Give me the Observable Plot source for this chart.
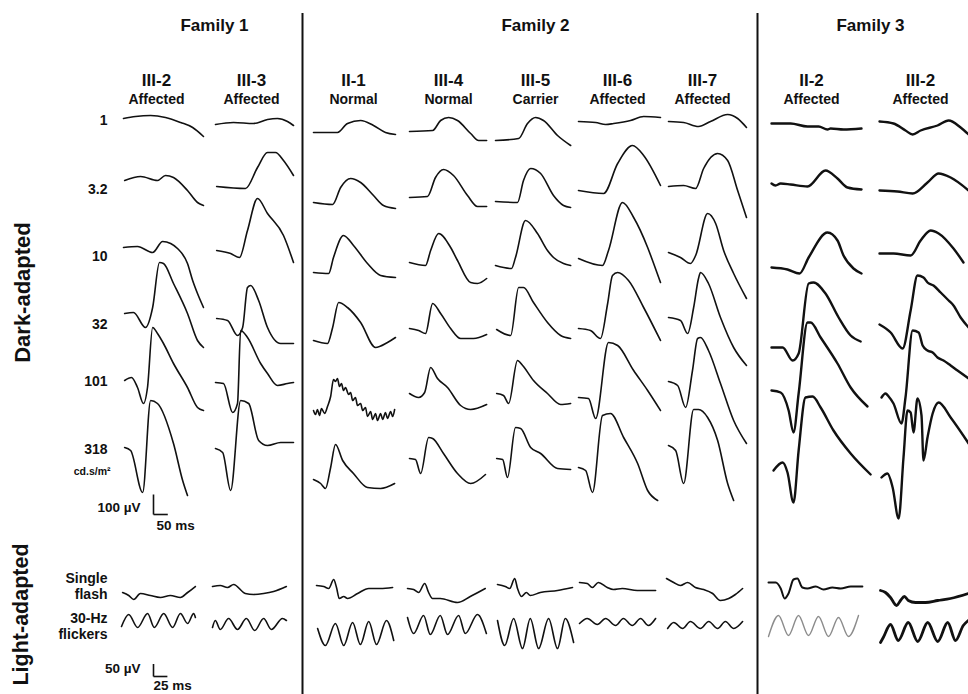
<!DOCTYPE html>
<html><head><meta charset="utf-8">
<script src="https://cdn.jsdelivr.net/npm/d3@7"></script>
<script src="https://cdn.jsdelivr.net/npm/@observablehq/plot@0.6"></script>
<style>body{margin:0;background:#fff}</style>
</head><body><div id="chart"></div>
<script>
// ---------------- DATA ----------------
const families = ["Family 1", "Family 2", "Family 3"];
const subjects = ["III-2", "III-3", "II-1", "III-4", "III-5", "III-6", "III-7", "II-2", "III-2"];
const subjectFamily = [0, 0, 1, 1, 1, 1, 1, 2, 2];
const subjectStatus = ["Affected", "Affected", "Normal", "Normal", "Carrier", "Affected", "Affected", "Affected", "Affected"];
const intensities = ["1", "3.2", "10", "32", "101", "318"];
const intensityUnit = "cd.s/m²";
const lightLabels = [["Single", "flash"], ["30-Hz", "flickers"]];
const darkScaleBar = {uV: 100, ms: 50};
const lightScaleBar = {uV: 50, ms: 25};

// Dark-adapted traces: per subject, one trace per intensity, points [ms, µV]
const darkF1_III2 = [
  [[0,5],[42,15],[95,20],[147,10],[200,-15],[242,-40],[280,-85]],
  [[4,40],[60,60],[119,40],[147,65],[175,55],[224,-10],[259,-70],[280,-85]],
  [[0,40],[49,45],[102,15],[137,70],[165,60],[189,35],[224,-40],[242,-125],[259,-190],[280,-260]],
  [[4,50],[35,55],[77,-20],[102,80],[126,305],[140,300],[175,200],[224,50],[259,-85],[280,-120]],
  [[4,0],[28,15],[49,-35],[70,-115],[84,-35],[102,265],[119,235],[140,185],[175,85],[224,-35],[259,-135],[280,-150]],
  [[4,5],[25,-10],[67,-220],[95,240],[119,225],[175,25],[207,-160],[224,-235]]
];
const darkF1_III3 = [
  [[0,-25],[63,-15],[133,-20],[182,0],[217,5],[252,-10],[273,-30]],
  [[4,10],[105,0],[147,105],[182,180],[210,180],[238,140],[273,65]],
  [[4,25],[53,10],[84,-10],[112,125],[147,285],[182,210],[238,100],[273,-35]],
  [[4,25],[42,15],[77,-60],[95,-20],[112,180],[123,190],[151,115],[182,-20],[228,-100],[273,-100]],
  [[0,-10],[28,-15],[60,-160],[77,-115],[88,250],[112,215],[158,85],[182,35],[217,-25],[252,-15],[273,-10]],
  [[0,0],[25,-20],[53,-210],[88,240],[116,225],[151,40],[182,15],[228,30],[273,30]]
];
const darkF2_II1 = [
  [[0,-65],[84,-65],[119,-20],[165,-5],[210,-30],[252,-65],[287,-75]],
  [[0,-70],[67,-80],[95,5],[130,50],[165,30],[210,-35],[245,-85],[287,-100]],
  [[0,-85],[53,-90],[70,-10],[105,100],[140,50],[189,-40],[235,-100],[287,-110]],
  [[0,-85],[49,-100],[67,-20],[88,105],[119,80],[165,5],[217,-120],[259,-95],[287,-70]],
  [[0,-150],[7,-170],[14,-145],[21,-175],[28,-140],[39,-165],[49,-130],[60,-80],[70,5],[77,-5],[84,10],[91,-30],[98,-15],[105,-50],[112,-35],[123,-70],[130,-60],[137,-100],[147,-85],[154,-125],[165,-115],[172,-150],[182,-135],[189,-180],[200,-155],[207,-195],[217,-165],[224,-200],[235,-165],[242,-195],[252,-160],[259,-190],[270,-155],[277,-180],[284,-145]],
  [[0,-155],[25,-175],[42,-200],[60,-95],[77,20],[102,-60],[140,-125],[189,-195],[235,-200],[284,-175]]
];
const darkF2_III4 = [
  [[0,-60],[81,-55],[109,-5],[137,10],[168,-5],[214,-70],[242,-105],[270,-105]],
  [[0,-45],[63,-40],[91,55],[119,95],[154,65],[203,-35],[238,-90],[270,-90]],
  [[0,-35],[56,-50],[74,25],[102,110],[144,40],[168,-25],[214,-135],[238,-140],[270,-115]],
  [[0,-25],[32,-35],[56,-50],[81,100],[109,50],[144,-25],[179,-75],[224,-75],[270,-55]],
  [[0,-65],[32,-85],[53,-60],[74,65],[98,10],[133,-35],[179,-125],[214,-145],[270,-120]],
  [[0,-50],[21,-55],[39,-125],[67,55],[81,50],[119,-25],[168,-125],[214,-175],[266,-130]]
];
const darkF2_III5 = [
  [[0,-105],[81,-95],[112,-20],[140,10],[168,-5],[217,-80],[263,-130]],
  [[0,-65],[77,-70],[98,40],[123,100],[158,75],[203,-35],[238,-85],[263,-95]],
  [[0,-50],[56,-65],[70,-10],[105,175],[147,110],[182,25],[203,-10],[238,-40],[263,-50]],
  [[4,-30],[53,-60],[81,180],[98,180],[133,105],[182,5],[228,-60],[263,-75]],
  [[4,-65],[28,-75],[46,-115],[77,100],[95,75],[133,0],[182,-65],[228,-120],[263,-115]],
  [[4,-50],[25,-55],[42,-145],[70,105],[88,100],[123,5],[158,-25],[217,-100],[263,-105]]
];
const darkF2_III6 = [
  [[0,-10],[60,-15],[95,-25],[123,-20],[182,-5],[228,15],[287,10]],
  [[0,-10],[88,-25],[137,125],[189,215],[228,165],[287,15]],
  [[0,-15],[84,-50],[105,25],[154,265],[193,190],[242,40],[263,-40],[287,-135]],
  [[0,-25],[42,-35],[77,-75],[102,100],[119,240],[137,255],[175,215],[228,80],[287,-85]],
  [[0,-85],[35,-90],[60,-190],[105,190],[137,175],[193,50],[242,-50],[287,-150]],
  [[0,-95],[25,-110],[49,-220],[84,165],[112,175],[158,55],[207,-75],[242,-210],[277,-260]]
];
const darkF2_III7 = [
  [[0,-10],[53,-15],[105,-35],[147,-10],[207,25],[242,5],[273,-40]],
  [[0,10],[53,15],[95,0],[123,100],[172,175],[207,140],[242,-10],[273,-145]],
  [[0,15],[42,-10],[77,-40],[95,0],[137,210],[165,160],[193,25],[228,-90],[273,-215]],
  [[0,30],[42,15],[67,-50],[88,80],[105,225],[112,255],[140,200],[182,30],[228,-120],[273,-210]],
  [[0,-5],[32,-25],[60,-135],[84,50],[102,210],[112,215],[140,150],[182,-15],[228,-200],[273,-315]],
  [[0,15],[25,-10],[53,-175],[88,195],[105,195],[137,155],[172,40],[207,-175],[228,-260]]
];
const darkF3_II2 = [
  [[0,-20],[67,-20],[126,-35],[165,-35],[196,-50],[207,-45],[252,-50],[315,-45]],
  [[0,25],[14,15],[32,25],[67,20],[126,10],[189,90],[231,50],[266,5],[315,-5]],
  [[0,-60],[56,-70],[98,-90],[130,-10],[196,115],[231,75],[252,0],[287,-65],[315,-90]],
  [[0,-120],[39,-120],[74,-185],[95,-150],[130,200],[147,205],[189,150],[235,30],[277,-60],[312,-90]],
  [[0,-50],[32,-60],[60,-150],[77,-260],[95,-65],[126,290],[137,290],[172,215],[231,85],[277,-35],[336,-130]],
  [[7,-110],[39,-70],[56,-120],[77,-270],[95,-10],[119,255],[144,260],[172,205],[217,90],[277,-25],[347,-130]]
];
const darkF3_III2 = [
  [[0,-10],[49,-20],[91,-55],[116,-75],[144,-55],[203,-30],[242,-5],[284,-40],[312,-75]],
  [[0,-10],[63,-15],[116,-25],[168,30],[207,75],[249,55],[312,-10]],
  [[0,10],[49,10],[109,0],[144,75],[179,125],[207,110],[259,35],[294,-35]],
  [[0,-5],[39,-45],[81,-125],[109,65],[133,240],[154,230],[168,205],[189,190],[214,155],[242,115],[259,90],[284,30],[312,-20]],
  [[7,-85],[21,-65],[32,-80],[49,-115],[77,-215],[91,-85],[116,250],[137,240],[151,175],[168,150],[186,140],[203,115],[224,100],[249,75],[273,50],[312,10]],
  [[7,-145],[28,-125],[46,-195],[67,-350],[84,-45],[98,190],[109,180],[119,80],[133,250],[147,165],[154,-60],[168,55],[186,175],[207,230],[249,155],[312,25]]
];

// Light-adapted traces: per subject, [single flash, 30-Hz flicker], points [ms, µV]
const lightF1_III2 = [
  [[2,-8],[13,-20],[22,-36],[34,-12],[52,-20],[70,-28],[88,-20],[106,-28],[119,-8],[133,16]],
  [[0,16],[13,64],[29,12],[47,68],[59,12],[76,68],[92,12],[106,68],[119,28],[130,68],[133,52]]
];
const lightF1_III3 = [
  [[0,16],[14,20],[27,12],[38,24],[59,-12],[74,-16],[92,-12],[110,-4],[133,16]],
  [[0,12],[5,40],[14,4],[29,48],[45,4],[61,48],[76,0],[92,48],[106,4],[126,48],[133,40]]
];
const lightF2_II1 = [
  [[0,20],[13,16],[22,8],[31,44],[36,12],[41,-32],[49,-24],[56,-32],[74,-12],[94,8],[115,8],[137,12]],
  [[2,8],[16,-60],[34,28],[49,-60],[65,32],[79,-56],[94,36],[108,-56],[126,40],[139,-40]]
];
const lightF2_III4 = [
  [[0,8],[11,4],[20,-8],[31,28],[38,-8],[45,-32],[59,-32],[90,-48],[113,-24],[140,8]],
  [[0,52],[11,-12],[29,60],[41,-16],[59,60],[72,-16],[92,60],[104,-12],[126,64],[142,-12]]
];
const lightF2_III5 = [
  [[0,24],[14,16],[22,8],[31,48],[36,8],[43,-24],[52,-8],[59,-20],[77,-8],[108,0],[135,12]],
  [[0,40],[13,-60],[29,48],[45,-72],[59,48],[74,-72],[92,48],[108,-72],[122,48],[137,-48]]
];
const lightF2_III6 = [
  [[0,32],[14,28],[23,12],[34,32],[50,12],[61,4],[77,8],[104,0],[137,0]],
  [[0,28],[14,48],[32,24],[47,48],[65,20],[79,48],[95,20],[110,48],[124,20],[137,48]]
];
const lightF2_III7 = [
  [[0,48],[13,32],[25,20],[38,32],[52,12],[67,4],[83,-12],[97,-40],[112,-32],[124,-16],[137,8]],
  [[2,8],[13,32],[29,8],[43,36],[61,8],[76,36],[92,8],[106,36],[121,8],[137,36]]
];
const lightF3_II2 = [
  [[0,32],[13,32],[22,8],[29,-32],[36,-12],[45,44],[52,48],[61,12],[70,8],[85,16],[99,4],[115,12],[130,8],[148,16],[169,16]],
  [[0,-24],[18,60],[36,-20],[54,60],[72,-20],[90,56],[108,-24],[126,52],[144,-24],[162,60]]
];
const lightF3_III2 = [
  [[0,0],[9,-8],[18,-28],[29,-60],[36,-40],[43,-24],[50,-40],[63,-48],[81,-48],[103,-40],[126,-32],[158,-12]],
  [[0,-48],[5,-28],[18,24],[32,-40],[50,32],[67,-44],[85,32],[103,-44],[121,32],[135,-40],[149,20],[158,40]]
];

// ---------------- LAYOUT ----------------
const W = 968, H = 694;
const darkX = [123, 215, 313, 409, 495, 578, 668, 771, 879];
const darkY = [119, 188, 255, 323, 380, 448];
const lightX = [121, 212, 316, 407, 497, 579, 666, 768, 880];
const lightY = [590, 630];
const DARK = {pxPerMs: 1 / 3.5, pxPerUV: 1 / 5};
const LIGHT = {pxPerMs: 1 / 1.8, pxPerUV: 1 / 4};
const headerX = [156, 251, 353, 448, 535, 617, 702, 811, 920];
const familyX = [214, 535, 870];
const dividerX = [302, 757];

const darkSets = [darkF1_III2, darkF1_III3, darkF2_II1, darkF2_III4, darkF2_III5, darkF2_III6, darkF2_III7, darkF3_II2, darkF3_III2];
const lightSets = [lightF1_III2, lightF1_III3, lightF2_II1, lightF2_III4, lightF2_III5, lightF2_III6, lightF2_III7, lightF3_II2, lightF3_III2];

const darkPts = [], lightPts = [];
darkSets.forEach((set, s) => set.forEach((tr, r) => tr.forEach(([t, v]) =>
  darkPts.push({s, r, t, v, key: "d" + s + "-" + r}))));
lightSets.forEach((set, s) => set.forEach((tr, r) => tr.forEach(([t, v]) =>
  lightPts.push({s, r, t, v, key: "l" + s + "-" + r}))));

const dx = d => darkX[d.s] + d.t * DARK.pxPerMs;
const dy = d => darkY[d.r] - d.v * DARK.pxPerUV;
const lx = d => lightX[d.s] + d.t * LIGHT.pxPerMs;
const ly = d => lightY[d.r] - d.v * LIGHT.pxPerUV;

const sans = "'Liberation Sans', Arial, Helvetica, sans-serif";

// scale bars
const darkBarOrigin = {x: 153, y: 514};
const lightBarOrigin = {x: 153, y: 676};
const bars = [
  {x1: darkBarOrigin.x, y1: darkBarOrigin.y, x2: darkBarOrigin.x, y2: darkBarOrigin.y - darkScaleBar.uV * DARK.pxPerUV},
  {x1: darkBarOrigin.x, y1: darkBarOrigin.y, x2: darkBarOrigin.x + darkScaleBar.ms * DARK.pxPerMs, y2: darkBarOrigin.y},
  {x1: lightBarOrigin.x, y1: lightBarOrigin.y, x2: lightBarOrigin.x, y2: lightBarOrigin.y - lightScaleBar.uV * LIGHT.pxPerUV},
  {x1: lightBarOrigin.x, y1: lightBarOrigin.y, x2: lightBarOrigin.x + lightScaleBar.ms * LIGHT.pxPerMs, y2: lightBarOrigin.y}
];
const barAmpTexts = [
  {text: darkScaleBar.uV + " µV", x: 140, y: 511},
  {text: lightScaleBar.uV + " µV", x: 140, y: 672}
];
const barTimeTexts = [
  {text: darkScaleBar.ms + " ms", x: 156, y: 529},
  {text: lightScaleBar.ms + " ms", x: 153, y: 689}
];
const lightText = [];
lightLabels.forEach((pair, i) => pair.forEach((txt, j) =>
  lightText.push({text: txt, x: 107, y: lightY[i] + (j === 0 ? -8 : 8)})));

const lineStyle = {z: "key", curve: "monotone-x", strokeLinejoin: "round", strokeLinecap: "round"};
const bold = {fontWeight: "bold", fill: "#111", lineAnchor: "bottom"};

const chart = Plot.plot({
  width: W, height: H, margin: 0,
  x: {domain: [0, W], range: [0, W], axis: null},
  y: {domain: [0, H], range: [0, H], axis: null},
  style: {fontFamily: sans, background: "#fff", color: "#111"},
  marks: [
    Plot.ruleX(dividerX, {y1: 13, y2: H, stroke: "#111", strokeWidth: 2}),
    // dark-adapted traces
    Plot.line(darkPts.filter(d => subjectFamily[d.s] < 2), {...lineStyle, x: dx, y: dy, stroke: "#111", strokeWidth: 1.6}),
    Plot.line(darkPts.filter(d => subjectFamily[d.s] === 2), {...lineStyle, x: dx, y: dy, stroke: "#111", strokeWidth: 2.4}),
    // light-adapted traces
    Plot.line(lightPts.filter(d => subjectFamily[d.s] < 2), {...lineStyle, x: lx, y: ly, stroke: "#111", strokeWidth: 1.6}),
    Plot.line(lightPts.filter(d => d.s === 7 && d.r === 0), {...lineStyle, x: lx, y: ly, stroke: "#111", strokeWidth: 2}),
    Plot.line(lightPts.filter(d => d.s === 7 && d.r === 1), {...lineStyle, x: lx, y: ly, stroke: "#8c8c8c", strokeWidth: 1.4}),
    Plot.line(lightPts.filter(d => d.s === 8), {...lineStyle, x: lx, y: ly, stroke: "#111", strokeWidth: 2.8}),
    // scale bars
    Plot.link(bars, {x1: "x1", y1: "y1", x2: "x2", y2: "y2", stroke: "#111", strokeWidth: 1.6}),
    Plot.text(barAmpTexts, {...bold, x: "x", y: "y", text: "text", textAnchor: "end", fontSize: 13.5}),
    Plot.text(barTimeTexts, {...bold, x: "x", y: "y", text: "text", textAnchor: "start", fontSize: 13.5}),
    // family titles
    Plot.text(families, {...bold, x: (d, i) => familyX[i], y: () => 30, text: d => d, fontSize: 17}),
    // subject headers
    Plot.text(subjects, {...bold, x: (d, i) => headerX[i], y: () => 85, text: d => d, fontSize: 17}),
    Plot.text(subjectStatus, {...bold, x: (d, i) => headerX[i], y: () => 103, text: d => d, fontSize: 14}),
    // intensity labels
    Plot.text(intensities, {...bold, x: () => 107, y: (d, i) => darkY[i] + 5, text: d => d, textAnchor: "end", fontSize: 14}),
    Plot.text([intensityUnit], {...bold, x: () => 110, y: () => 474, text: d => d, textAnchor: "end", fontSize: 10.5}),
    Plot.text(lightText, {...bold, x: "x", y: "y", text: "text", textAnchor: "end", fontSize: 14}),
    // section labels
    Plot.text(["Dark-adapted"], {x: () => 22, y: () => 292, text: d => d, rotate: -90, fontSize: 22, fontWeight: "bold", fill: "#111"}),
    Plot.text(["Light-adapted"], {x: () => 21, y: () => 614, text: d => d, rotate: -90, fontSize: 21.5, fontWeight: "bold", fill: "#111"})
  ]
});
document.getElementById("chart").appendChild(chart);
</script>
</body></html>
